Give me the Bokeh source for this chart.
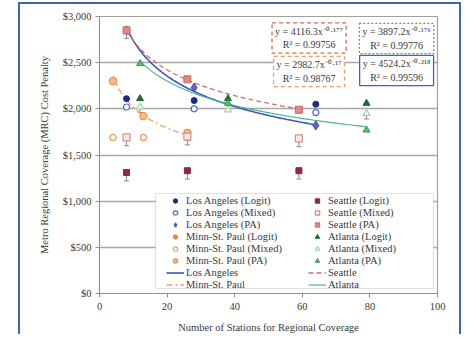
import numpy as np
from bokeh.plotting import figure
from bokeh.models import (Legend, LegendItem, NumeralTickFormatter, FixedTicker,
                          Label, BoxAnnotation, Whisker, TeeHead, ColumnDataSource, Range1d)
from bokeh.embed import file_html
from bokeh.resources import INLINE

# ---------------- data ----------------
la_x = [8, 28, 64]
la_logit = [2110, 2090, 2050]
la_mixed = [2020, 2000, 1960]
la_pa = [2850, 2230, 1820]

sea_x = [8, 26, 59]
sea_logit = [1310, 1330, 1330]
sea_mixed = [1690, 1700, 1680]
sea_pa = [2850, 2320, 1990]

msp_x = [4, 13, 26]
msp_logit = [1690, 1690, 1720]
msp_mixed = [1690, 1690, 1690]
msp_pa = [2300, 1920, 1740]

atl_x = [12, 38, 79]
atl_logit = [2110, 2110, 2060]
atl_mixed = [2020, 1990, 1950]
atl_pa = [2490, 2060, 1770]

# lower error extents (below the point)
sea_logit_err = [90, 90, 90]
sea_mixed_err = [90, 90, 90]
la_pa_err = [90, 0, 0]
atl_mixed_err = [60, 0, 60]

# power trendlines y = a * x^b (from the chart's equation boxes)
fit_names = ["Los Angeles", "Seattle", "Minn-St. Paul", "Atlanta"]
fit_a = [4524.2, 4116.3, 2982.7, 3897.2]
fit_b = [-0.218, -0.177, -0.17, -0.176]
fit_r2 = ["0.99596", "0.99756", "0.98767", "0.99776"]
fit_xmin = [8, 8, 4, 12]
fit_xmax = [64, 59, 26, 79]

x_ticks = [0, 20, 40, 60, 80, 100]
y_ticks = [0, 500, 1000, 1500, 2000, 2500, 3000]

FONT = "Liberation Serif"
TXT = "#3a3a3a"
FS = "10.5px"

p = figure(width=443, height=332, output_backend="svg", toolbar_location=None,
           x_range=Range1d(0, 100), y_range=Range1d(0, 3000),
           min_border_left=79, min_border_right=26, min_border_top=12, min_border_bottom=43)
p.margin = (2, 0, 0, 18)
p.styles = {"border-left": "2px solid #3d68b0", "border-top": "2px solid #3d68b0",
            "border-right": "2px solid #3d68b0"}
p.outline_line_color = "#a0a0a0"
p.outline_line_width = 1.2
p.background_fill_color = "white"

p.xgrid.grid_line_color = None
p.ygrid.grid_line_color = "#a8a8a8"
p.ygrid.grid_line_width = 1.6
p.xaxis.ticker = FixedTicker(ticks=x_ticks)
p.yaxis.ticker = FixedTicker(ticks=y_ticks)
p.yaxis.formatter = NumeralTickFormatter(format="$0,0")
for ax in (p.xaxis[0], p.yaxis[0]):
    ax.axis_line_color = "#909090"
    ax.major_tick_line_color = "#909090"
    ax.minor_tick_line_color = None
    ax.major_tick_out = 4
    ax.major_tick_in = 0
    ax.major_label_text_font = FONT
    ax.major_label_text_font_size = FS
    ax.major_label_text_color = TXT
    ax.axis_label_text_font = FONT
    ax.axis_label_text_font_size = FS
    ax.axis_label_text_font_style = "normal"
    ax.axis_label_text_color = TXT
p.xaxis.axis_label = "Number of Stations for Regional Coverage"
p.yaxis.axis_label = "Metro Regional Coverage (MRC) Cost Penalty"
p.xaxis.major_label_standoff = 5
p.xaxis.axis_label_standoff = 9
p.yaxis.major_label_standoff = 4
p.yaxis.axis_label_standoff = 10

# legend frame
p.add_layout(BoxAnnotation(left=16.6, right=98.8, bottom=54, top=1083,
                           fill_color="white", fill_alpha=1.0,
                           line_color="#9a9a9a", line_width=1.2, level="underlay"))

# trendlines
curve_styles = [
    dict(color="#3a55c8", dash="solid", width=1.6),
    dict(color="#d86a5a", dash="5 3", width=1.3),
    dict(color="#f0a060", dash="6 3 2 3", width=1.3),
    dict(color="#4cb88a", dash="solid", width=1.2),
]
curves = []
for i in range(4):
    xs = np.linspace(fit_xmin[i], fit_xmax[i], 60)
    ys = fit_a[i] * xs ** fit_b[i]
    st = curve_styles[i]
    curves.append(p.line(xs, ys, line_color=st["color"], line_dash=st["dash"],
                         line_width=st["width"]))

def whisk(xs, ys, errs):
    keep = [i for i, e in enumerate(errs) if e > 0]
    src = ColumnDataSource(dict(x=[xs[i] for i in keep],
                                up=[ys[i] for i in keep],
                                lo=[ys[i] - errs[i] for i in keep]))
    w = Whisker(source=src, base="x", upper="up", lower="lo",
                line_color="#8a8a8a", line_width=1,
                upper_head=None, lower_head=TeeHead(size=5, line_color="#8a8a8a"))
    p.add_layout(w)

whisk(sea_x, sea_logit, sea_logit_err)
whisk(sea_x, sea_mixed, sea_mixed_err)
whisk(la_x, la_pa, la_pa_err)
whisk(atl_x, atl_mixed, atl_mixed_err)

S = 6
r = {}
r["la_logit"] = p.scatter(la_x, la_logit, marker="circle", size=S, fill_color="#1c2a8c", line_color="#1c2a8c")
r["la_mixed"] = p.scatter(la_x, la_mixed, marker="circle", size=S, fill_color="white", line_color="#5466d8", line_width=1.2)
r["la_pa"] = p.scatter(la_x, la_pa, marker="diamond", size=S + 3, fill_color="#6a62c8", line_color="#4a4aa8")
r["msp_logit"] = p.scatter(msp_x, msp_logit, marker="circle", size=S, fill_color="#f08a3a", line_color="#f08a3a")
r["msp_mixed"] = p.scatter(msp_x, msp_mixed, marker="circle", size=S, fill_color="white", line_color="#f0a060", line_width=1.2)
r["msp_pa"] = p.scatter(msp_x, msp_pa, marker="circle", size=S + 1, fill_color="#f5c08a", line_color="#ec9050", line_width=1.2)
r["sea_logit"] = p.scatter(sea_x, sea_logit, marker="square", size=S, fill_color="#8a2a4a", line_color="#8a2a4a")
r["sea_mixed"] = p.scatter(sea_x, sea_mixed, marker="square", size=S + 1, fill_color="#f8e8e8", line_color="#d09090", line_width=1.2)
r["sea_pa"] = p.scatter(sea_x, sea_pa, marker="square", size=S + 1, fill_color="#e08a80", line_color="#c86a6a")
r["atl_logit"] = p.scatter(atl_x, atl_logit, marker="triangle", size=S + 1, fill_color="#1e6a30", line_color="#1e6a30")
r["atl_mixed"] = p.scatter(atl_x, atl_mixed, marker="triangle", size=S + 1, fill_color="white", line_color="#a0d8a0", line_width=1.2)
r["atl_pa"] = p.scatter(atl_x, atl_pa, marker="triangle", size=S + 1, fill_color="#60b870", line_color="#3a9a50")

items = [
    LegendItem(label="Los Angeles (Logit)", renderers=[r["la_logit"]]),
    LegendItem(label="Los Angeles (Mixed)", renderers=[r["la_mixed"]]),
    LegendItem(label="Los Angeles (PA)", renderers=[r["la_pa"]]),
    LegendItem(label="Minn-St. Paul (Logit)", renderers=[r["msp_logit"]]),
    LegendItem(label="Minn-St. Paul (Mixed)", renderers=[r["msp_mixed"]]),
    LegendItem(label="Minn-St. Paul (PA)", renderers=[r["msp_pa"]]),
    LegendItem(label="Los Angeles", renderers=[curves[0]]),
    LegendItem(label="Minn-St. Paul", renderers=[curves[2]]),
    LegendItem(label="Seattle (Logit)", renderers=[r["sea_logit"]]),
    LegendItem(label="Seattle (Mixed)", renderers=[r["sea_mixed"]]),
    LegendItem(label="Seattle (PA)", renderers=[r["sea_pa"]]),
    LegendItem(label="Atlanta (Logit)", renderers=[r["atl_logit"]]),
    LegendItem(label="Atlanta (Mixed)", renderers=[r["atl_mixed"]]),
    LegendItem(label="Atlanta (PA)", renderers=[r["atl_pa"]]),
    LegendItem(label="Seattle", renderers=[curves[1]]),
    LegendItem(label="Atlanta", renderers=[curves[3]]),
]
leg = Legend(items=items, location=(67, 3), ncols=2, orientation="vertical",
             label_text_font=FONT, label_text_font_size=FS, label_text_color=TXT,
             glyph_width=18, glyph_height=11, label_height=11, label_width=121,
             label_standoff=2, spacing=1, padding=0, margin=0,
             border_line_alpha=0, background_fill_alpha=0)
p.add_layout(leg, "center")

# equation boxes
def sup(s):
    table = str.maketrans("-0123456789.", "⁻⁰¹²³⁴⁵⁶⁷⁸⁹·")
    return s.translate(table)

box_specs = [
    (1, 62.0, 2767, "#d86a5a", "4 3"),
    (2, 62.0, 2404, "#f0a060", "4 3"),
    (3, 87.9, 2762, "#4caa60", "2 2"),
    (0, 87.9, 2415, "#4a5ad8", "solid"),
]
for idx, bx, by, col, dash in box_specs:
    txt = f"y = {fit_a[idx]:.1f}x{sup(str(fit_b[idx]))}\nR² = {fit_r2[idx]}"
    p.add_layout(Label(x=bx, y=by, text=txt, text_align="center", text_baseline="middle",
                       text_font=FONT, text_font_size="10px", text_color=TXT,
                       border_line_color=col, border_line_dash=dash, border_line_width=1.3,
                       background_fill_color="white", padding=3))

open("out.html", "w").write(file_html(p, INLINE))
